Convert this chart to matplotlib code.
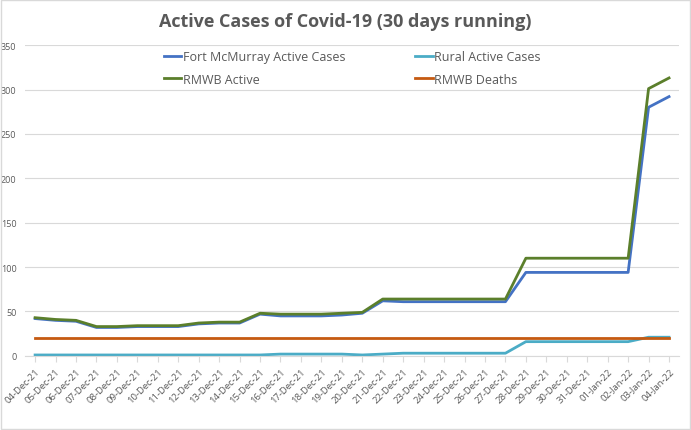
import matplotlib.pyplot as plt

# dates shown on the category axis
dates = ['04-Dec-21', '05-Dec-21', '06-Dec-21', '07-Dec-21', '08-Dec-21', '09-Dec-21',
         '10-Dec-21', '11-Dec-21', '12-Dec-21', '13-Dec-21', '14-Dec-21', '15-Dec-21',
         '16-Dec-21', '17-Dec-21', '18-Dec-21', '19-Dec-21', '20-Dec-21', '21-Dec-21',
         '22-Dec-21', '23-Dec-21', '24-Dec-21', '25-Dec-21', '26-Dec-21', '27-Dec-21',
         '28-Dec-21', '29-Dec-21', '30-Dec-21', '31-Dec-21', '01-Jan-22', '02-Jan-22',
         '03-Jan-22', '04-Jan-22']

fort_mcmurray = [42, 40, 39, 32, 32, 33, 33, 33, 36, 37, 37, 47, 45, 45, 45, 46,
                 48, 62, 61, 61, 61, 61, 61, 61, 94, 94, 94, 94, 94, 94, 280, 292]
rural = [1, 1, 1, 1, 1, 1, 1, 1, 1, 1, 1, 1, 2, 2, 2, 2,
         1, 2, 3, 3, 3, 3, 3, 3, 16, 16, 16, 16, 16, 16, 21, 21]
rmwb_active = [43, 41, 40, 33, 33, 34, 34, 34, 37, 38, 38, 48, 47, 47, 47, 48,
               49, 64, 64, 64, 64, 64, 64, 64, 110, 110, 110, 110, 110, 110, 301, 313]
rmwb_deaths = [20] * 32

yticks = [0, 50, 100, 150, 200, 250, 300, 350]

plt.rcParams['font.family'] = ['Open Sans', 'DejaVu Sans']

fig = plt.figure(figsize=(6.91, 4.31), dpi=100)
ax = fig.add_axes([0.036, 0.172, 0.947, 0.721])

x = list(range(len(dates)))
lw = 2.0
l1, = ax.plot(x, fort_mcmurray, color='#4472C4', lw=lw, label='Fort McMurray Active Cases')
l2, = ax.plot(x, rural, color='#4BACC6', lw=lw, label='Rural Active Cases')
l3, = ax.plot(x, rmwb_active, color='#5B7F2B', lw=lw, label='RMWB Active')
l4, = ax.plot(x, rmwb_deaths, color='#C55A11', lw=lw, label='RMWB Deaths')

ax.set_xlim(-0.5, len(dates) - 0.5)
ax.set_ylim(0, 350)
ax.set_yticks(yticks)
ax.set_xticks(x)
ax.set_xticklabels(dates, rotation=45, ha='right', rotation_mode='anchor')
ax.tick_params(axis='y', length=0, labelsize=6.5, colors='#595959', pad=6)
ax.tick_params(axis='x', length=4, labelsize=6.8, colors='#595959', color='#D9D9D9')
for t in ax.get_xticklabels():
    t.set_color('#595959')
ax.grid(axis='y', color='#D9D9D9', lw=0.8)
ax.set_axisbelow(True)
for s in ['top', 'right', 'left']:
    ax.spines[s].set_visible(False)
ax.spines['bottom'].set_color('#D9D9D9')

# legend filled column by column, so order gives the reference's rows
ax.legend([l1, l3, l2, l4], [l1.get_label(), l3.get_label(), l2.get_label(), l4.get_label()],
          loc='upper center', bbox_to_anchor=(0.5, 1.02), ncol=2, frameon=False,
          fontsize=9, handlelength=1.4, handletextpad=0.1, columnspacing=5.6,
          labelspacing=0.75, labelcolor='#595959')

fig.suptitle('Active Cases of Covid-19 (30 days running)', y=0.97, fontsize=13,
             color='#595959', fontweight='bold')

# chart border
fig.patches.append(plt.Rectangle((0.002, 0.002), 0.996, 0.996, transform=fig.transFigure,
                                 fill=False, edgecolor='#D9D9D9', lw=1))

fig.savefig('out.png', dpi=100)
